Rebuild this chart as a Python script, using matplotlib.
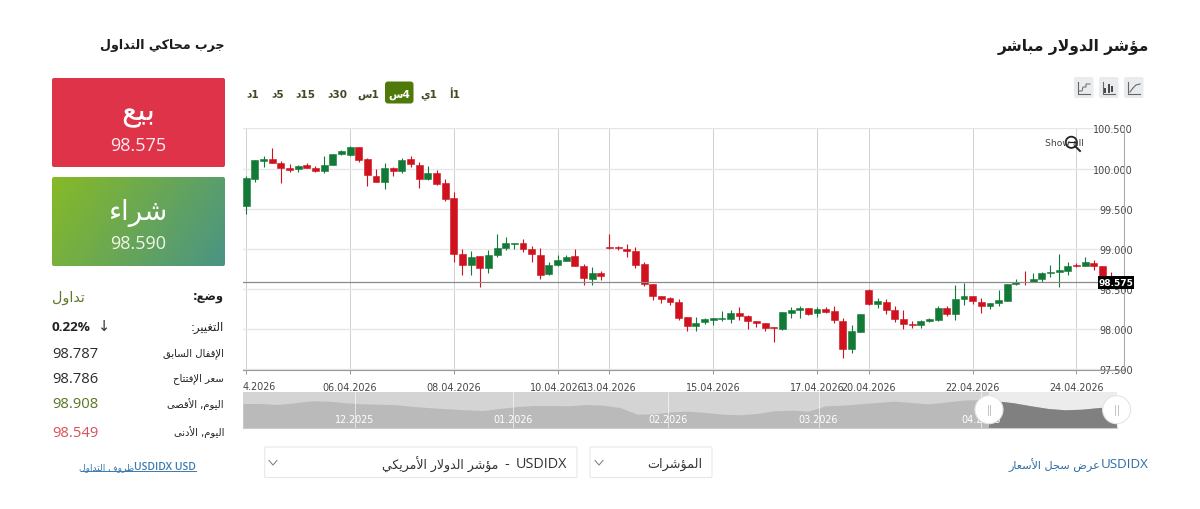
import numpy as np
import matplotlib
matplotlib.use('Agg')
import matplotlib.pyplot as plt
from matplotlib.patches import Circle, FancyBboxPatch, Rectangle

# 4h candles
opens = [99.535, 99.868, 100.097, 100.122, 100.067, 100.005, 99.997, 100.038, 100.001, 99.964,
         100.043, 100.176, 100.163, 100.263, 100.113, 99.905, 99.826, 100.005, 99.968, 100.113,
         100.047, 99.868, 99.939, 99.822, 99.627, 98.933, 98.792, 98.904, 98.758, 98.921,
         99.008, 99.062, 99.074, 98.995, 98.925, 98.686, 98.793, 98.847, 98.905, 98.785,
         98.620, 98.703, 99.021, 99.021, 99.000, 98.967, 98.806, 98.562, 98.409, 98.381,
         98.335, 98.149, 98.042, 98.083, 98.116, 98.129, 98.129, 98.195, 98.162, 98.100,
         98.075, 98.025, 98.001, 98.199, 98.236, 98.261, 98.199, 98.248, 98.228, 98.104,
         97.747, 97.963, 98.490, 98.311, 98.340, 98.232, 98.125, 98.062, 98.046, 98.100,
         98.112, 98.266, 98.191, 98.374, 98.407, 98.340, 98.286, 98.328, 98.349, 98.560,
         98.589, 98.585, 98.618, 98.697, 98.710, 98.726, 98.797, 98.784, 98.826, 98.784,
         98.640]
closes = [99.876, 100.101, 100.113, 100.063, 100.005, 99.984, 100.034, 100.009, 99.964, 100.047,
          100.176, 100.217, 100.263, 100.109, 99.914, 99.826, 100.001, 99.964, 100.101, 100.055,
          99.872, 99.939, 99.806, 99.619, 98.933, 98.796, 98.891, 98.758, 98.925, 99.012,
          99.074, 99.074, 99.000, 98.933, 98.675, 98.798, 98.864, 98.897, 98.781, 98.632,
          98.703, 98.661, 99.008, 99.004, 98.967, 98.793, 98.558, 98.405, 98.372, 98.331,
          98.137, 98.042, 98.075, 98.120, 98.133, 98.137, 98.199, 98.162, 98.096, 98.071,
          98.009, 98.009, 98.207, 98.240, 98.261, 98.191, 98.252, 98.215, 98.108, 97.747,
          97.971, 98.183, 98.307, 98.344, 98.232, 98.125, 98.058, 98.046, 98.104, 98.120,
          98.266, 98.191, 98.374, 98.407, 98.353, 98.286, 98.320, 98.365, 98.556, 98.581,
          98.581, 98.618, 98.697, 98.714, 98.730, 98.784, 98.784, 98.838, 98.784, 98.643,
          98.575]
highs = [99.910, 100.110, 100.159, 100.250, 100.092, 100.055, 100.040, 100.067, 100.034, 100.159,
         100.184, 100.225, 100.284, 100.263, 100.126, 99.993, 100.063, 100.022, 100.130, 100.151,
         100.076, 100.034, 99.984, 99.868, 99.710, 98.995, 98.970, 98.912, 98.979, 99.182,
         99.149, 99.074, 99.120, 99.037, 99.004, 98.839, 98.922, 98.922, 98.996, 98.810,
         98.769, 98.727, 99.182, 99.037, 99.054, 99.025, 98.831, 98.562, 98.409, 98.397,
         98.376, 98.149, 98.145, 98.137, 98.133, 98.219, 98.236, 98.273, 98.178, 98.100,
         98.079, 98.025, 98.211, 98.273, 98.286, 98.261, 98.269, 98.273, 98.286, 98.133,
         98.050, 98.183, 98.498, 98.382, 98.373, 98.291, 98.241, 98.100, 98.108, 98.141,
         98.291, 98.282, 98.552, 98.573, 98.415, 98.390, 98.320, 98.490, 98.564, 98.622,
         98.726, 98.701, 98.705, 98.797, 98.934, 98.830, 98.822, 98.896, 98.863, 98.788,
         98.705]
lows = [99.432, 99.826, 100.013, 100.063, 99.818, 99.959, 99.951, 100.001, 99.959, 99.939,
        100.043, 100.171, 100.159, 100.084, 99.785, 99.826, 99.743, 99.910, 99.939, 100.013,
        99.756, 99.856, 99.793, 99.594, 98.829, 98.671, 98.675, 98.526, 98.692, 98.891,
        98.987, 98.991, 98.954, 98.837, 98.621, 98.678, 98.789, 98.843, 98.781, 98.550,
        98.542, 98.612, 98.996, 98.988, 98.893, 98.756, 98.533, 98.356, 98.327, 98.294,
        98.116, 97.972, 97.972, 98.067, 98.054, 98.096, 98.075, 98.112, 97.996, 98.025,
        97.968, 97.831, 97.992, 98.141, 98.141, 98.170, 98.153, 98.203, 98.075, 97.635,
        97.697, 97.959, 98.299, 98.257, 98.187, 98.083, 98.000, 98.008, 98.013, 98.083,
        98.096, 98.166, 98.116, 98.303, 98.307, 98.203, 98.245, 98.291, 98.344, 98.552,
        98.548, 98.581, 98.581, 98.643, 98.527, 98.676, 98.772, 98.780, 98.730, 98.631,
        98.550]

y_ticks = [97.5, 98.0, 98.5, 99.0, 99.5, 100.0, 100.5]
x_tick_index = [0, 12, 24, 36, 42, 54, 66, 72, 84, 96]
x_tick_labels = ['', '06.04.2026', '08.04.2026', '10.04.2026', '13.04.2026',
                 '15.04.2026', '17.04.2026', '20.04.2026', '22.04.2026', '24.04.2026']
first_date_clipped = '4.2026'
last_price = 98.581

# navigator silhouette, relative height
nav_values = [72, 72, 69, 74, 80, 79, 74, 71, 70, 68, 63, 59, 56, 53, 51, 57, 63, 66,
              66, 65, 69, 67, 60, 40, 41, 47, 49, 45, 40, 38, 42, 50, 52, 49, 65, 67,
              71, 75, 79, 75, 71, 76, 82, 84, 80, 74, 65, 57, 53, 55, 60, 63]
nav_month_index = [6.53, 15.76, 24.8, 33.6, 43.1]
nav_month_labels = ['12.2025', '01.2026', '02.2026', '03.2026', '04.2026']

sell_price = '98.575'
buy_price = '98.590'
info_values = ['98.787', '98.786', '98.908', '98.549']
info_labels = ['الإقفال السابق', 'سعر الإفتتاح', 'اليوم, الأقصى', 'اليوم, الأدنى']
info_colors = ['#2b2b2b', '#2b2b2b', '#55761f', '#d9505a']

RED = '#d0121f'
GREEN = '#127a36'

# matplotlib does no arabic shaping, so map to presentation forms by hand
forms = {}
code = 0xFE80
for group, count in [('ء', 1), ('آ', 2), ('أ', 2), ('ؤ', 2), ('إ', 2), ('ئ', 4), ('ا', 2), ('ب', 4),
                     ('ة', 2), ('ت', 4), ('ث', 4), ('ج', 4), ('ح', 4), ('خ', 4), ('د', 2), ('ذ', 2),
                     ('ر', 2), ('ز', 2), ('س', 4), ('ش', 4), ('ص', 4), ('ض', 4), ('ط', 4), ('ظ', 4),
                     ('ع', 4), ('غ', 4), ('ف', 4), ('ق', 4), ('ك', 4), ('ل', 4), ('م', 4), ('ن', 4),
                     ('ه', 4), ('و', 2), ('ى', 2), ('ي', 4)]:
    forms[group] = [chr(code + i) for i in range(count)]
    code += count
lam_alef = {'ا': (0xFEFB, 0xFEFC), 'أ': (0xFEF7, 0xFEF8), 'إ': (0xFEF9, 0xFEFA), 'آ': (0xFEF5, 0xFEF6)}


def ar(text):
    out = []
    i = 0
    prev_joins = False
    while i < len(text):
        c = text[i]
        if c not in forms:
            out.append(c)
            prev_joins = False
            i += 1
            continue
        if c == 'ل' and i + 1 < len(text) and text[i + 1] in lam_alef:
            out.append(chr(lam_alef[text[i + 1]][1 if prev_joins else 0]))
            prev_joins = False
            i += 2
            continue
        next_is_letter = i + 1 < len(text) and text[i + 1] in forms
        can_join = len(forms[c]) == 4
        f = forms[c]
        if len(f) == 1:
            out.append(f[0])
        elif prev_joins and can_join and next_is_letter:
            out.append(f[3])
        elif prev_joins:
            out.append(f[1])
        elif can_join and next_is_letter:
            out.append(f[2])
        else:
            out.append(f[0])
        prev_joins = can_join
        i += 1
    return ''.join(reversed(out))


fig = plt.figure(figsize=(12, 5.1), dpi=100, facecolor='white')
W, H = 1200.0, 510.0


def axes_px(x0, y0, x1, y1, **kw):
    return fig.add_axes([x0 / W, 1 - y1 / H, (x1 - x0) / W, (y1 - y0) / H], **kw)


# main candle chart
ax = axes_px(243, 129, 1124, 371, zorder=1)
index = np.arange(len(opens))
opens_a = np.array(opens)
closes_a = np.array(closes)
colors = [GREEN if c >= o else RED for o, c in zip(opens, closes)]
ax.vlines(index, lows, highs, colors=colors, linewidth=0.8, zorder=3)
ax.bar(index, np.abs(closes_a - opens_a), bottom=np.minimum(opens_a, closes_a), width=0.8,
       color=colors, edgecolor=colors, linewidth=0.4, zorder=4)
ax.axhline(last_price, color='#8a8a8a', linewidth=0.9, zorder=5)
ax.set_xlim(-0.38, 101.5)
ax.set_ylim(97.4875, 100.505)
ax.set_yticks(y_ticks)
ax.set_yticklabels(['%.3f' % v for v in y_ticks], fontsize=6.9, color='#444444', ha='right')
ax.yaxis.tick_right()
ax.tick_params(axis='y', length=0, pad=6.5)
ax.set_xticks(x_tick_index)
ax.set_xticklabels(x_tick_labels, fontsize=6.9, color='#444444')
ax.tick_params(axis='x', length=3, width=0.7, color='#999999', pad=6)
ax.grid(axis='y', color='#e6e6e6', linewidth=1.0, zorder=0)
ax.grid(axis='x', color='#d0d0d0', linewidth=0.7, zorder=0)
for side in ['top', 'left']:
    ax.spines[side].set_visible(False)
ax.spines['right'].set_color('#aaaaaa')
ax.spines['bottom'].set_color('#999999')
ax.patch.set_alpha(0)

# navigator
nav = axes_px(243, 393, 1116.6, 428.5, zorder=1)
nav_x = np.arange(len(nav_values))
nav.set_xlim(0, len(nav_values) - 1)
nav.set_ylim(0, 35.5 * 3)
nav.axvspan(0, 43.55, color='#d4d4d4', linewidth=0)
nav.axvspan(43.55, len(nav_values) - 1, color='#ececec', linewidth=0)
nav.fill_between(nav_x, 0, nav_values, color='#bababa', linewidth=0)
dark = nav.fill_between(nav_x, 0, nav_values, color='#808080', linewidth=0)
dark.set_clip_path(Rectangle((43.55, 0), 10, 200, transform=nav.transData))
nav.vlines(nav_month_index, 0, 35.5 * 3, colors='white', linewidth=0.6, alpha=0.7)
for pos, label in zip(nav_month_index, nav_month_labels):
    nav.text(pos, 25, label, color='white', fontsize=6.9, ha='center', va='center')
nav.set_xticks([])
nav.set_yticks([])
for side in ['top', 'left', 'right']:
    nav.spines[side].set_visible(False)
nav.spines['bottom'].set_color('#cccccc')

# everything else on a page layer in pixels
page = axes_px(0, 0, W, H, zorder=5)
page.patch.set_alpha(0)
page.axis('off')


def txt(x, y, s, size, color='#222222', ha='left', weight='normal', family='DejaVu Sans', **kw):
    return page.text(x, y, s, fontsize=size, color=color, ha=ha, va='center', fontweight=weight,
                     family=family, **kw)


def box(x0, y0, x1, y1, face, edge='none', r=2, lw=0.8):
    p = FancyBboxPatch((x0, y0), x1 - x0, y1 - y0, boxstyle='round,pad=0,rounding_size=%g' % r,
                       facecolor=face, edgecolor=edge, linewidth=lw)
    page.add_patch(p)
    return p


txt(243, 387, first_date_clipped, 6.9, color='#444444')
txt(1149, 47, ar('مؤشر الدولار مباشر'), 11.2, ha='right', weight='bold', color='#1c1c1c')
txt(225, 45, ar('جرب محاكي التداول'), 9.1, ha='right', weight='bold', color='#1c1c1c')

# sell / buy
box(52, 79, 225, 168, '#df3349')
txt(138.5, 114, ar('بيع'), 22, color='white', ha='center')
txt(138.5, 146.5, sell_price, 13, color='#fdecee', ha='center', family='Open Sans')
green_box = box(52, 178, 225, 267, 'none')
gx, gy = np.meshgrid(np.linspace(0, 1, 173), np.linspace(0, 1, 89))
g = np.clip(0.75 * gx + 0.25 * gy, 0, 1)[..., None]
grad = (1 - g) * np.array([0.53, 0.73, 0.15]) + g * np.array([0.29, 0.58, 0.52])
im = page.imshow(grad, extent=(52, 225, 267, 178), aspect='auto', zorder=0.5)
im.set_clip_path(green_box)
txt(138.5, 213, ar('شراء'), 20, color='white', ha='center')
txt(138.5, 244.5, buy_price, 13, color='#f1f7e6', ha='center', family='Open Sans')

# info rows
txt(224, 297, ar('وضع:'), 8.4, ha='right', weight='bold')
txt(52, 298, ar('تداول'), 10.4, color='#5f7a2a')
txt(224, 328, ar('التغيير:'), 8.4, ha='right')
txt(52, 328, '0.22%', 9.7, weight='bold', family='Open Sans')
txt(104, 327, '↓', 10.5, ha='center', color='#333333')
for y, label, value, col in zip([355, 380, 405, 433.5], info_labels, info_values, info_colors):
    txt(224, y - 1, ar(label), 7.2, ha='right')
    txt(52, y, value, 10.6, color=col, family='Open Sans')
txt(196, 467.5, 'USDIDX USD', 7.5, color='#3a7ab0', ha='right', family='Open Sans', weight='semibold')
txt(134, 467.5, ar('ظروف التداول'), 6.6, color='#3a7ab0', ha='right')
page.plot([81, 196], [471.5, 471.5], color='#3a7ab0', linewidth=0.7)

# timeframe buttons
box(385, 82.5, 413.5, 104.5, '#4f7a0a', r=3)
tf_labels = [(253, 'د', '1'), (278, 'د', '5'), (305, 'د', '15'), (337, 'د', '30'), (368, 'س', '1'),
             (399, 'س', '4'), (429, 'ي', '1'), (455, 'أ', '1')]
for x, unit, num in tf_labels:
    col = 'white' if x == 399 else '#3f4a26'
    txt(x, 94.5, ar(unit) + num, 7.6, ha='center', color=col, weight='bold')

# chart type icons
for x0 in [1074, 1099, 1124]:
    box(x0, 78, x0 + 19.5, 99, '#e9ecef', r=2)
    page.plot([x0 + 4, x0 + 4, x0 + 16], [83, 95, 95], color='#666666', linewidth=0.8)
page.plot([1079, 1082, 1083, 1086, 1086, 1090], [92, 92, 88, 88, 85, 85], color='#666666', linewidth=0.7)
page.plot([1105, 1105], [90, 93], color='#444444', linewidth=1.4)
page.plot([1108.5, 1108.5], [86, 93], color='#444444', linewidth=1.4)
page.plot([1112, 1112], [88, 92], color='#444444', linewidth=1.4)
page.plot([1130, 1133, 1136, 1140], [93, 89, 86, 85], color='#666666', linewidth=0.8)

# show all + magnifier
txt(1045, 143.7, 'Show all', 6.7, color='#444444')
page.add_patch(Circle((1071.3, 143.3), 5.6, fill=False, edgecolor='#222222', linewidth=1.3))
page.plot([1075.5, 1080], [147.5, 152], color='#222222', linewidth=1.4)
page.plot([1068, 1075], [143.3, 143.3], color='#222222', linewidth=0.9)

# last price label
page.add_patch(Rectangle((1097.5, 277.3), 36.5, 13, facecolor='black', edgecolor='none'))
txt(1115.7, 284, sell_price, 6.5, color='white', ha='center', weight='bold')

# navigator handles
for x in [989, 1116.6]:
    page.add_patch(Circle((x, 410.7), 14, facecolor='white', edgecolor='#e4e4e4', linewidth=0.8))
    page.plot([x - 1.2, x - 1.2], [406, 415.5], color='#c4c4c4', linewidth=0.7)
    page.plot([x + 1.2, x + 1.2], [406, 415.5], color='#c4c4c4', linewidth=0.7)

# dropdowns and link
box(264.7, 448, 577, 478.5, 'white', edge='#e8e8e8', r=1)
box(590, 448, 712, 478.5, 'white', edge='#e8e8e8', r=1)
for x in [273, 599]:
    page.plot([x - 4, x, x + 4], [461.5, 466, 461.5], color='#777777', linewidth=0.7)
txt(567, 464.5, 'USDIDX', 10.4, ha='right', color='#333333', family='Open Sans')
txt(507, 464.5, '-', 10.4, ha='center', color='#333333', family='Open Sans')
txt(498, 464.5, ar('مؤشر الدولار الأمريكي'), 9, ha='right', color='#333333')
txt(702, 464.5, ar('المؤشرات'), 9.2, ha='right', color='#333333')
txt(1149, 465, 'USDIDX', 9.6, ha='right', color='#2e6da4', family='Open Sans')
txt(1100, 465, ar('عرض سجل الأسعار'), 8.1, ha='right', color='#2e6da4')

page.set_xlim(0, W)
page.set_ylim(H, 0)

fig.savefig('out.png', dpi=100)
